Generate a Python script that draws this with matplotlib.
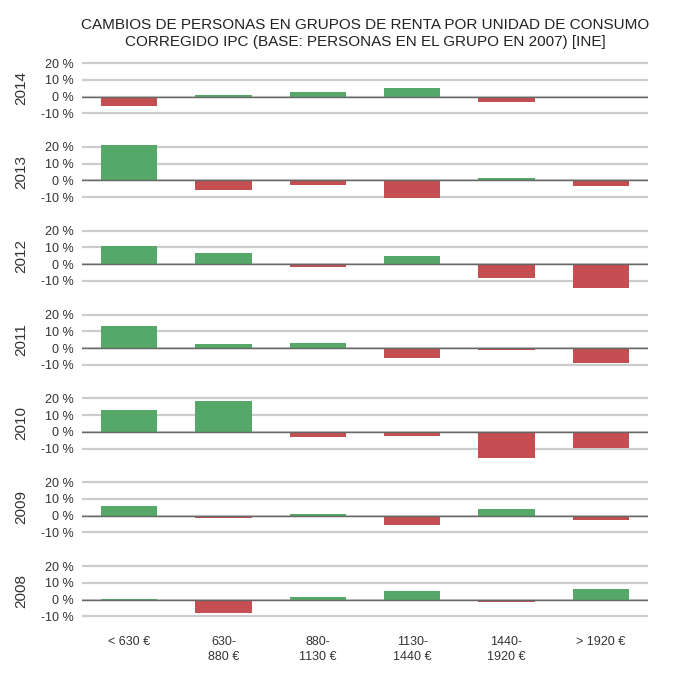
import numpy as np
import matplotlib.pyplot as plt

plt.rcParams['font.family'] = ['Liberation Sans', 'DejaVu Sans']

groups = ['< 630 €', '630-\n880 €', '880-\n1130 €', '1130-\n1440 €', '1440-\n1920 €', '> 1920 €']
years = ['2014', '2013', '2012', '2011', '2010', '2009', '2008']

# cambio en % respecto a 2007
v2014 = [-5.5, 1.0, 3.0, 5.0, -3.5, -0.5]
v2013 = [21.0, -5.5, -3.0, -10.6, 1.5, -3.5]
v2012 = [10.6, 6.6, -1.8, 4.7, -8.2, -14.1]
v2011 = [12.9, 2.4, 2.9, -6.1, -1.2, -8.8]
v2010 = [12.9, 18.2, -2.9, -2.2, -15.3, -9.4]
v2009 = [5.7, -1.2, 1.0, -5.5, 3.9, -2.5]
v2008 = [0.6, -8.0, 1.8, 5.3, -1.6, 6.5]
values = [v2014, v2013, v2012, v2011, v2010, v2009, v2008]

green = '#55a868'
red = '#c44e52'

fig, axes = plt.subplots(len(years), 1, figsize=(6.8, 6.8), dpi=100, sharex=True)
fig.subplots_adjust(left=0.1206, right=0.953, top=0.932, bottom=0.069, hspace=0)

x = np.arange(len(groups))
for ax, year, vals in zip(axes, years, values):
    vals = np.array(vals)
    colors = [green if v >= 0 else red for v in vals]
    ax.bar(x, vals, width=0.6, color=colors, zorder=3)
    ax.set_ylim(-20, 30)
    ax.set_xlim(-0.5, 5.5)
    ax.set_yticks([-10, 0, 10, 20])
    ax.set_yticklabels(['-10 %', '0 %', '10 %', '20 %'], fontsize=9, color='#333333')
    ax.grid(axis='y', color='#cccccc', linewidth=1.6, zorder=0)
    ax.axhline(0, color='#666666', linewidth=1.0, zorder=4)
    ax.set_ylabel(year, fontsize=11, color='#333333', labelpad=9)
    for s in ax.spines.values():
        s.set_visible(False)
    ax.tick_params(axis='both', length=0, pad=6)
    ax.set_facecolor('white')

axes[-1].set_xticks(x)
axes[-1].set_xticklabels(groups, fontsize=9, color='#333333', linespacing=1.3)
axes[-1].tick_params(axis='x', pad=2)

fig.text(0.537, 1 - 33.5 / 680,
         'CAMBIOS DE PERSONAS EN GRUPOS DE RENTA POR UNIDAD DE CONSUMO\n'
         'CORREGIDO IPC (BASE: PERSONAS EN EL GRUPO EN 2007) [INE]',
         fontsize=11, color='#222222', ha='center', va='center', linespacing=1.3)

fig.savefig('out.png', dpi=100, facecolor='white')
